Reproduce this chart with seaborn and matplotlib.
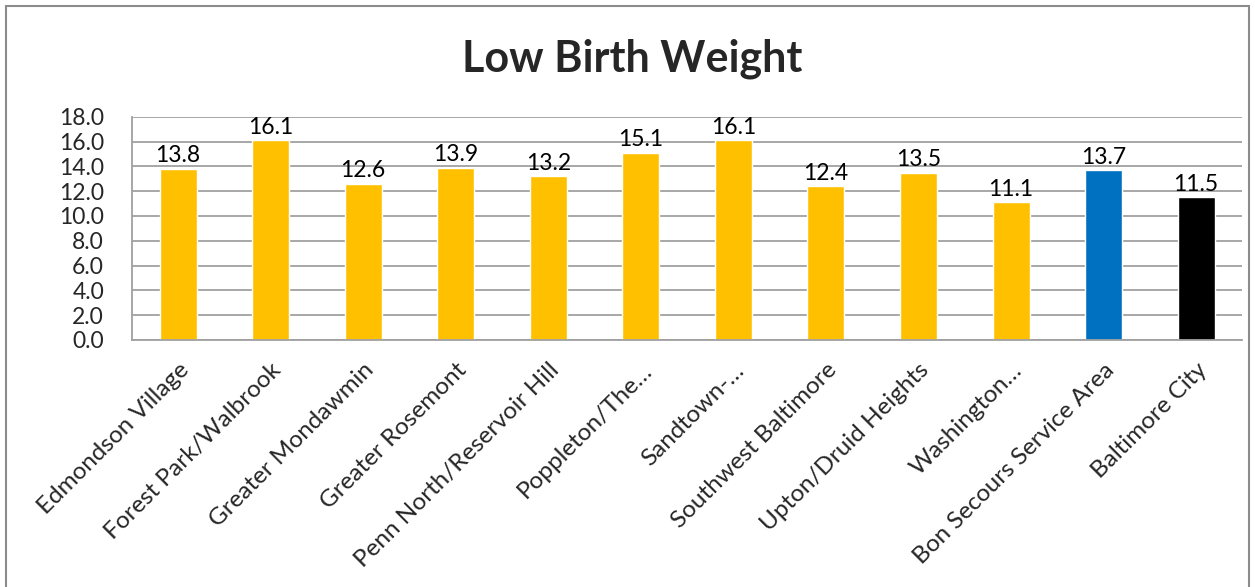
import matplotlib
matplotlib.use("Agg")
import matplotlib.pyplot as plt
import seaborn as sns
import pandas as pd
from matplotlib.patches import Rectangle

categories = ["Edmondson Village", "Forest Park/Walbrook", "Greater Mondawmin",
              "Greater Rosemont", "Penn North/Reservoir Hill", "Poppleton/The\u2026",
              "Sandtown-\u2026", "Southwest Baltimore", "Upton/Druid Heights",
              "Washington\u2026", "Bon Secours Service Area", "Baltimore City"]
values = [13.8, 16.1, 12.6, 13.9, 13.2, 15.1, 16.1, 12.4, 13.5, 11.1, 13.7, 11.5]
bar_colors = ["#FFC000"] * 10 + ["#0070C0", "#000000"]
y_ticks = [0, 2, 4, 6, 8, 10, 12, 14, 16, 18]

sns.set_theme(style="white")
plt.rcParams['font.family'] = ['Lato', 'DejaVu Sans']

df = pd.DataFrame({"cat": categories, "val": values})

fig = plt.figure(figsize=(12.55, 5.87), dpi=100)
ax = fig.add_axes([0.105, 0.421, 0.885, 0.380])

sns.barplot(data=df, x="cat", y="val", hue="cat", palette=bar_colors,
            width=0.4, legend=False, ax=ax, saturation=1)

ax.set_ylim(0, 18)
ax.set_xlim(-0.5, len(categories) - 0.5)
ax.set_yticks(y_ticks)
ax.set_yticklabels([f"{v:.1f}" for v in y_ticks], fontsize=16.5)
ax.yaxis.grid(True, color="#A0A0A0", linewidth=1.3)
ax.set_axisbelow(True)
ax.set_xlabel("")
ax.set_ylabel("")

for s in ["top", "right"]:
    ax.spines[s].set_visible(False)
for s in ["left", "bottom"]:
    ax.spines[s].set_color("#A0A0A0")
    ax.spines[s].set_linewidth(1.3)

# category labels
ax.set_xticks(range(len(categories)))
ax.set_xticklabels(categories, rotation=45, ha="right", rotation_mode="anchor",
                   fontsize=17.5)
ax.tick_params(axis="x", length=0, pad=14)
ax.tick_params(axis="y", length=6, color="#A0A0A0", width=1.3, pad=14, direction="out")
# boundary ticks
ax.set_xticks([i + 0.5 for i in range(-1, len(categories))], minor=True)
ax.tick_params(axis="x", which="minor", length=7, color="#A0A0A0", width=1.3)

for i, v in enumerate(values):
    ax.text(i, v + 0.2, f"{v:.1f}", ha="center", va="bottom", fontsize=16.5,
            color="black")

fig.text(0.504, 0.90, "Low Birth Weight", ha="center", va="center",
         fontsize=31, fontweight="bold")

fig.patches.append(Rectangle((0.005, -0.1), 0.99, 1.09, transform=fig.transFigure,
                             fill=False, edgecolor="#8C8C8C", linewidth=1.5))

fig.savefig("out.png", dpi=100)
